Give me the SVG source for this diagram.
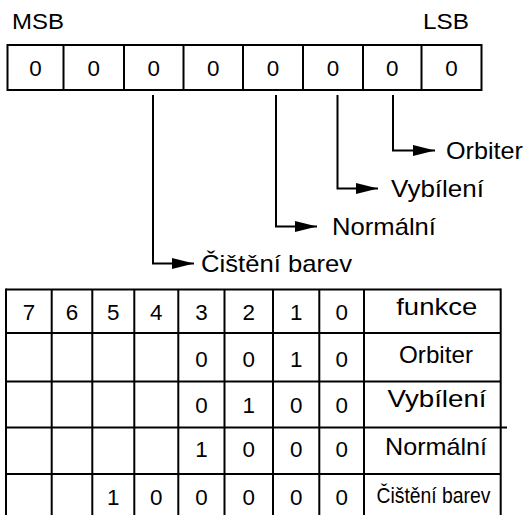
<svg xmlns="http://www.w3.org/2000/svg" width="527" height="515" viewBox="0 0 527 515">
<defs>
<style>
text{font-family:"Liberation Sans",Arial,Helvetica,sans-serif;font-size:16px;fill:#000}
.d{text-anchor:middle}
.t{text-anchor:middle}
.b{fill:none;stroke:#000;stroke-width:2}
.c{fill:none;stroke:#000;stroke-width:2}
</style>
<marker id="ah" markerUnits="userSpaceOnUse" markerWidth="22" markerHeight="11" refX="22" refY="5.5" orient="auto">
<path d="M0,0 L22,5.5 L0,11 z" fill="#000"/>
</marker>
</defs>
<rect width="527" height="515" fill="#fff"/>

<g id="labels-msb-lsb">
<text transform="translate(12,28.5) scale(1.35)" textLength="38.5" lengthAdjust="spacingAndGlyphs">MSB</text>
<text transform="translate(423,28.5) scale(1.35)" textLength="34" lengthAdjust="spacingAndGlyphs">LSB</text>
</g>

<g id="register">
<rect class="b" x="7.5" y="45" width="474" height="45"/>
<path class="b" d="M63.5,45V90M124,45V90M183.5,45V90M243,45V90M303,45V90M363,45V90M421.5,45V90"/>
<text class="d" transform="translate(35.5,76) scale(1.4)">0</text>
<text class="d" transform="translate(93.75,76) scale(1.4)">0</text>
<text class="d" transform="translate(153.75,76) scale(1.4)">0</text>
<text class="d" transform="translate(213.25,76) scale(1.4)">0</text>
<text class="d" transform="translate(273,76) scale(1.4)">0</text>
<text class="d" transform="translate(333,76) scale(1.4)">0</text>
<text class="d" transform="translate(392.25,76) scale(1.4)">0</text>
<text class="d" transform="translate(451.5,76) scale(1.4)">0</text>
</g>

<g id="connectors">
<path class="c" d="M393,95V150.5H435" marker-end="url(#ah)"/>
<path class="c" d="M337.5,95V188.5H378" marker-end="url(#ah)"/>
<path class="c" d="M276,95V226.5H317" marker-end="url(#ah)"/>
<path class="c" d="M153,95V263.5H194" marker-end="url(#ah)"/>
</g>

<g id="node-orbiter"><text transform="translate(446,159) scale(1.5)" textLength="51.3" lengthAdjust="spacingAndGlyphs">Orbiter</text></g>
<g id="node-vybileni"><text transform="translate(391,197) scale(1.5)" textLength="62" lengthAdjust="spacingAndGlyphs">Vybílení</text></g>
<g id="node-normalni"><text transform="translate(332,235) scale(1.5)" textLength="69.3" lengthAdjust="spacingAndGlyphs">Normální</text></g>
<g id="node-cisteni"><text transform="translate(201,272) scale(1.5)" textLength="100.7" lengthAdjust="spacingAndGlyphs">Čištění barev</text></g>

<g id="table">
<path class="b" d="M6,289.5H500.7M6,333H500.7M6,381.5H500.7M6,427.5H507M6,474H500.7"/>
<path class="b" d="M6,288.5V516M51.7,289.5V516M92.3,289.5V516M134.3,289.5V516M178.3,289.5V516M224.5,289.5V516M273,289.5V516M319.3,289.5V516M364,289.5V516M500.7,288.5V516"/>
<text class="d" transform="translate(29,319.5) scale(1.4)">7</text>
<text class="d" transform="translate(72,319.5) scale(1.4)">6</text>
<text class="d" transform="translate(113.3,319.5) scale(1.4)">5</text>
<text class="d" transform="translate(156.3,319.5) scale(1.4)">4</text>
<text class="d" transform="translate(201.4,319.5) scale(1.4)">3</text>
<text class="d" transform="translate(248.7,319.5) scale(1.4)">2</text>
<text class="d" transform="translate(296.2,319.5) scale(1.4)">1</text>
<text class="d" transform="translate(341.6,319.5) scale(1.4)">0</text>
<text class="t" transform="translate(436.7,315) scale(1.5)" textLength="54" lengthAdjust="spacingAndGlyphs">funkce</text>

<text class="d" transform="translate(201.4,367) scale(1.4)">0</text>
<text class="d" transform="translate(248.7,367) scale(1.4)">0</text>
<text class="d" transform="translate(296.2,367) scale(1.4)">1</text>
<text class="d" transform="translate(341.6,367) scale(1.4)">0</text>
<text class="t" transform="translate(436,363) scale(1.5)" textLength="49.3" lengthAdjust="spacingAndGlyphs">Orbiter</text>

<text class="d" transform="translate(201.4,413) scale(1.4)">0</text>
<text class="d" transform="translate(248.7,413) scale(1.4)">1</text>
<text class="d" transform="translate(296.2,413) scale(1.4)">0</text>
<text class="d" transform="translate(341.6,413) scale(1.4)">0</text>
<text class="t" transform="translate(437,406.5) scale(1.5)" textLength="66" lengthAdjust="spacingAndGlyphs">Vybílení</text>

<text class="d" transform="translate(201.4,456.5) scale(1.4)">1</text>
<text class="d" transform="translate(248.7,456.5) scale(1.4)">0</text>
<text class="d" transform="translate(296.2,456.5) scale(1.4)">0</text>
<text class="d" transform="translate(341.6,456.5) scale(1.4)">0</text>
<text class="t" transform="translate(436,454.5) scale(1.5)" textLength="68" lengthAdjust="spacingAndGlyphs">Normální</text>

<text class="d" transform="translate(113.3,505) scale(1.4)">1</text>
<text class="d" transform="translate(156.3,505) scale(1.4)">0</text>
<text class="d" transform="translate(201.4,505) scale(1.4)">0</text>
<text class="d" transform="translate(248.7,505) scale(1.4)">0</text>
<text class="d" transform="translate(296.2,505) scale(1.4)">0</text>
<text class="d" transform="translate(341.6,505) scale(1.4)">0</text>
<text class="t" transform="translate(433.5,503) scale(1.4)" textLength="81.4" lengthAdjust="spacingAndGlyphs">Čištění barev</text>
</g>
</svg>
